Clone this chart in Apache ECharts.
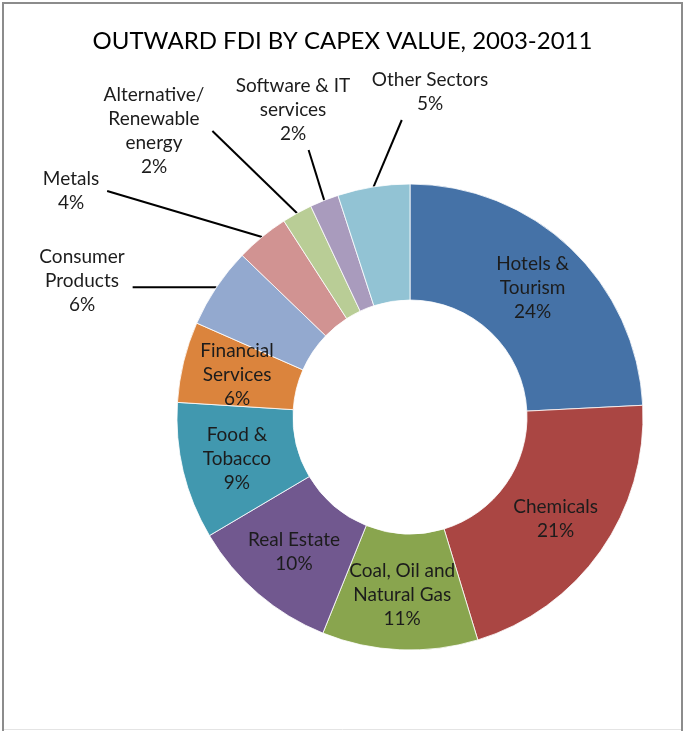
<!DOCTYPE html>
<html>
<head>
<meta charset="utf-8">
<script src="https://cdn.jsdelivr.net/npm/echarts@6/dist/echarts.min.js"></script>
<style>
  html, body { margin: 0; padding: 0; background: #ffffff; }
  #chart { width: 685px; height: 731px; }
</style>
</head>
<body>
<div id="chart"></div>
<script>
// Outward FDI by capex value, 2003-2011: share of capital expenditure per sector
const sectors = [
  'Hotels &\nTourism',
  'Chemicals',
  'Coal, Oil and\nNatural Gas',
  'Real Estate',
  'Food &\nTobacco',
  'Financial\nServices',
  'Consumer\nProducts',
  'Metals',
  'Alternative/\nRenewable\nenergy',
  'Software & IT\nservices',
  'Other Sectors'
];
const capexShare = [24.2, 21.1, 10.8, 10.4, 9.5, 5.6, 5.6, 3.7, 2.1, 2.0, 5.0];

const sliceColors = [
  '#4572A7', '#AA4643', '#89A54E', '#71588F', '#4198AF', '#DB843D',
  '#93A9CF', '#D19392', '#B9CD96', '#A99BBD', '#92C3D4'
];

// Sectors whose labels sit outside the ring, with the centre of each label block
const outsideLabelAt = {
  6: [82, 281],
  7: [71, 191],
  8: [154, 131],
  9: [293, 110],
  10: [430, 92]
};

const FONT = 'Lato, "Open Sans", sans-serif';

const chart = echarts.init(document.getElementById('chart'), null, { renderer: 'canvas' });

const seriesData = sectors.map((name, i) => {
  const outside = outsideLabelAt[i] !== undefined;
  return {
    name: name,
    value: capexShare[i],
    itemStyle: { color: sliceColors[i] },
    label: { position: outside ? 'outside' : 'inside' },
    labelLine: { show: outside }
  };
});

chart.setOption({
  backgroundColor: '#ffffff',
  animation: false,
  title: {
    text: 'OUTWARD FDI BY CAPEX VALUE, 2003-2011',
    left: 'center',
    top: 24,
    textStyle: {
      fontFamily: FONT,
      fontSize: 24,
      fontWeight: 'normal',
      color: '#000000'
    }
  },
  graphic: [
    {
      type: 'polyline',
      shape: { points: [[3, 740], [3, 3], [682, 3], [682, 740]] },
      style: { stroke: '#8c8c8c', lineWidth: 2, fill: null },
      silent: true
    },
    {
      type: 'line',
      shape: { x1: 4, y1: 729.5, x2: 681, y2: 729.5 },
      style: { stroke: '#e4e4e4', lineWidth: 1 },
      silent: true
    }
  ],
  series: [{
    type: 'pie',
    center: [410, 417],
    radius: [117, 233],
    startAngle: 90,
    clockwise: true,
    percentPrecision: 0,
    avoidLabelOverlap: false,
    itemStyle: { borderColor: '#ffffff', borderWidth: 0.8 },
    label: {
      formatter: '{b}\n{d}%',
      fontFamily: FONT,
      fontSize: 19,
      lineHeight: 24,
      color: '#1c1c1c',
      align: 'center'
    },
    labelLine: {
      length: 10,
      length2: 10,
      lineStyle: { color: '#000000', width: 2 }
    },
    // Place outside labels and run the leader line from the slice edge
    // to the nearest side of the label block
    labelLayout: function (params) {
      const pos = outsideLabelAt[params.dataIndex];
      if (!pos) return {};
      const w = params.labelRect.width;
      const h = params.labelRect.height;
      const left = pos[0] - w / 2, right = pos[0] + w / 2;
      const top = pos[1] - h / 2, bottom = pos[1] + h / 2;
      const start = params.labelLinePoints[0];
      let end;
      if (start[0] > right) {
        const y = (start[1] >= top && start[1] <= bottom) ? start[1] : pos[1];
        end = [right + 8, y];
      } else {
        const x = (Math.min(Math.max(start[0], left), right) + pos[0]) / 2;
        end = [x, bottom + 4];
      }
      return {
        x: pos[0],
        y: pos[1],
        align: 'center',
        verticalAlign: 'middle',
        labelLinePoints: [start, end, end]
      };
    },
    data: seriesData
  }]
});
</script>
</body>
</html>
